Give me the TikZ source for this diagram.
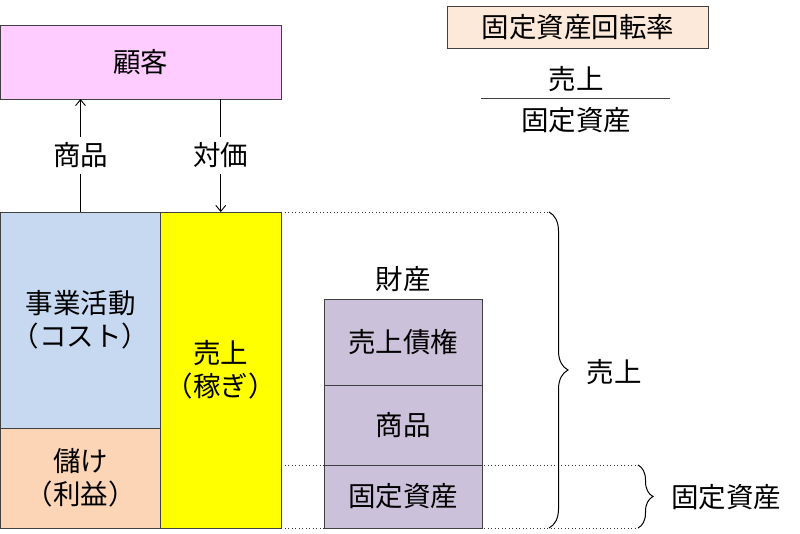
\documentclass[tikz,border=0pt]{standalone}
\usepackage{fontspec}
\setmainfont{Noto Sans CJK JP}
\usetikzlibrary{decorations.pathreplacing,arrows.meta}
\definecolor{custpink}{HTML}{FFCCFF}
\definecolor{costblue}{HTML}{C6D9F1}
\definecolor{profitpeach}{HTML}{FBD5B5}
\definecolor{salesyellow}{HTML}{FFFF00}
\definecolor{assetpurple}{HTML}{CCC1DA}
\definecolor{ratiofill}{HTML}{FDE9D9}
\definecolor{edge}{HTML}{404040}
\tikzset{
  box/.style={draw=edge, line width=0.9pt, inner sep=0pt, outer sep=0pt, anchor=north west, align=center,
    font=\fontsize{27.5}{33}\selectfont},
  lbl/.style={font=\fontsize{27.5}{33}\selectfont, inner sep=0pt},
  arr/.style={line width=0.9pt, -{Straight Barb[length=6pt,width=10pt]}},
  dotline/.style={line width=0.8pt, dash pattern=on 0.9pt off 2.6pt, black!80},
  bracestyle/.style={line width=1pt, decorate, decoration={brace, amplitude=#1}},
}
\begin{document}
\begin{tikzpicture}[x=1pt,y=-1pt]
\useasboundingbox (0,0) rectangle (800,533);
% dotted guide lines
\coordinate (b1t) at (549,212);
\coordinate (b1b) at (549,528);
\coordinate (b2t) at (638,465);
\coordinate (b2b) at (638,528);
\coordinate (d1) at (281,212);
\coordinate (d2) at (281,465);
\coordinate (d3) at (281,528);
\draw[dotline] (d1) -- (b1t);
\draw[dotline] (d2) -- (b2t);
\draw[dotline] (d3) -- (b2b);
% customer
\node[box, fill=custpink, minimum width=280.5pt, minimum height=74pt] (cust) at (0.5,25) {顧客};
% left column
\node[box, fill=costblue, minimum width=160pt, minimum height=216pt] (cost) at (0.5,212) {事業活動\\（コスト）};
\node[box, fill=profitpeach, minimum width=160pt, minimum height=100pt] (profit) at (0.5,428) {儲け\\（利益）};
\node[box, fill=salesyellow, minimum width=120.5pt, minimum height=316pt] (sales) at (160.5,212) {売上\\（稼ぎ）};
% arrows
\draw[arr] (cost.north) -- node[lbl, fill=white, inner sep=6pt] (goods) {商品} (cost.north |- cust.south);
\draw[arr] (sales.north |- cust.south) -- node[lbl, fill=white, inner sep=6pt] (price) {対価} (sales.north);
% assets
\node[box, fill=assetpurple, minimum width=158pt, minimum height=86pt] (recv) at (324,299) {売上債権};
\node[box, fill=assetpurple, minimum width=158pt, minimum height=80pt] (inv) at (324,385) {商品};
\node[box, fill=assetpurple, minimum width=158pt, minimum height=63pt] (fixed) at (324,465) {固定資産};
\node[lbl] (assets) at (403,279) {財産};
% braces
\draw[bracestyle=19pt] (b1t) -- (b1b);
\draw[bracestyle=15pt] (b2t) -- (b2b);
\node[lbl] (bl1) at (614,372) {売上};
\node[lbl] (bl2) at (726,497) {固定資産};
% ratio
\node[box, fill=ratiofill, line width=0.8pt, minimum width=261pt, minimum height=42pt] (ratio) at (447.5,6.5) {固定資産回転率};
\node[lbl] (num) at (576,79) {売上};
\coordinate (fl) at (481,98);
\coordinate (fr) at (670,98);
\draw[line width=0.9pt, edge] (fl) -- (fr);
\node[lbl] (den) at (576,120) {固定資産};
\end{tikzpicture}
\end{document}
